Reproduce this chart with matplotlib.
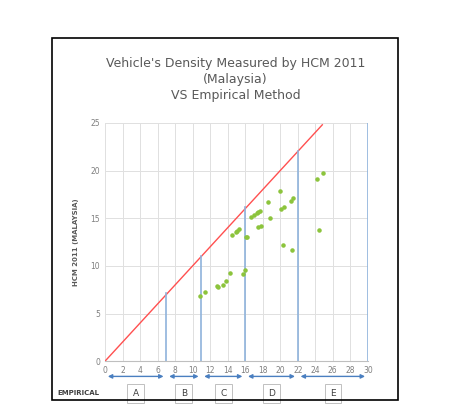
import matplotlib
matplotlib.use("Agg")
import matplotlib.pyplot as plt
from matplotlib.patches import Rectangle

emp = [10.8, 11.4, 12.8, 12.95, 13.5, 13.8, 14.25, 14.5, 14.9, 15.1, 15.3, 15.75, 15.95, 16.05, 16.25,
       16.7, 17.05, 17.35, 17.5, 17.65, 17.45, 17.75, 18.65, 18.8, 20.0, 20.05, 20.4, 20.3, 21.2, 21.4,
       21.3, 24.2, 24.9, 24.4]
hcm = [6.8, 7.25, 7.9, 7.8, 8.0, 8.45, 9.25, 13.2, 13.5, 13.7, 13.9, 9.15, 9.55, 13.05, 13.05,
       15.1, 15.3, 15.55, 15.7, 15.8, 14.1, 14.2, 16.65, 15.05, 17.9, 16.0, 16.2, 12.15, 16.85, 17.1,
       11.7, 19.1, 19.7, 13.8]
bounds = [0, 7, 11, 16, 22, 30]
bound_tops = [7.1, 11.0, 16.2, 22.0, 25.0]
zones = ["A", "B", "C", "D", "E"]

fig = plt.figure(figsize=(4.71, 4.18), dpi=100)
fig.add_artist(Rectangle((52/471, 1-400/418), 346/471, 362/418, transform=fig.transFigure,
                         fill=False, edgecolor="black", linewidth=1.2))
ax = fig.add_axes([0.223, 0.136, 0.558, 0.570])
ax.set_xlim(0, 30); ax.set_ylim(0, 25)
ax.set_xticks(range(0, 31, 2)); ax.set_yticks(range(0, 26, 5))
ax.grid(True, color="#e0e0e0", linewidth=0.7)
for s in ["top", "right", "left"]:
    ax.spines[s].set_visible(False)
ax.spines["bottom"].set_color("#bfbfbf")
ax.tick_params(length=0, labelsize=5.5, colors="#7f7f7f")
ax.plot([0, 24.8], [0, 24.8], color="#ff5050", linewidth=1)
for b, t in zip(bounds[1:], bound_tops):
    ax.plot([b, b], [0, t], color="#8fb3dc", linewidth=1.2)
ax.scatter(emp, hcm, s=5, color="#8cc43c", zorder=3)
for i in range(5):
    ax.annotate("", xy=(bounds[i+1], -1.6), xytext=(bounds[i], -1.6), xycoords="data",
                arrowprops=dict(arrowstyle="<|-|>", color="#4a7fc0", lw=1, mutation_scale=6),
                annotation_clip=False)
    cx = (bounds[i] + bounds[i+1]) / 2
    ax.text(cx, -3.4, zones[i], ha="center", va="center", fontsize=6.5, color="#404040",
            bbox=dict(boxstyle="square,pad=0.6", fc="white", ec="#c0c0c0", lw=0.7), clip_on=False)
ax.text(-0.6, -3.3, "EMPIRICAL", ha="right", va="center", fontsize=5, color="#404040",
        fontweight="bold", clip_on=False)
ax.set_ylabel("HCM 2011 (MALAYSIA)", fontsize=5, color="#595959", fontweight="bold", labelpad=8)
fig.text(0.5, 0.81, "Vehicle's Density Measured by HCM 2011\n(Malaysia)\nVS Empirical Method",
         ha="center", va="center", fontsize=9, color="#595959", linespacing=1.3)
fig.savefig("out.png", dpi=100)
